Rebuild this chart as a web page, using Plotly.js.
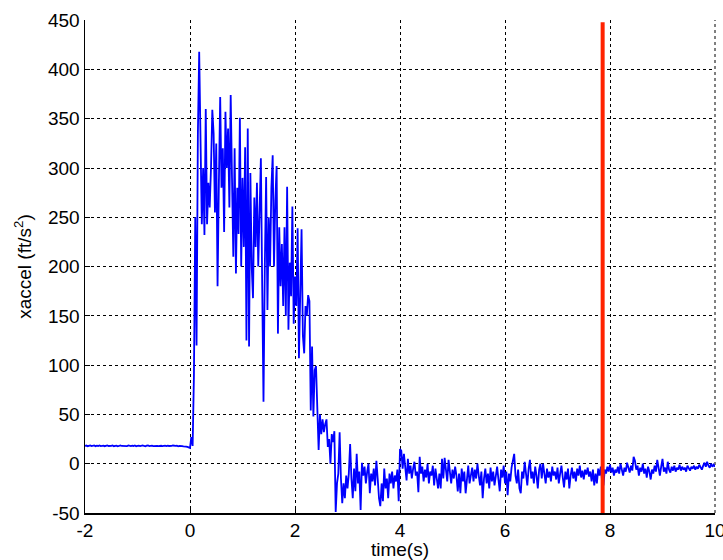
<!DOCTYPE html>
<html>
<head>
<meta charset="utf-8">
<script src="https://cdn.plot.ly/plotly-3.0.1.min.js"></script>
<style>
html,body{margin:0;padding:0;background:#fff;overflow:hidden;}
#chart{width:723px;height:560px;}
</style>
</head>
<body>
<div id="chart"></div>
<script>
// time axis: samples start at T0 and are spaced DT seconds apart
const T0 = -2;
const DT = 0.025;

// xaccel samples (ft/s^2), one row = 0.5 s
const xaccel = [
  // -2.0 .. -0.025
  18,18.4,17.8,18.2,18.6,17.9,18.1,18.5,17.7,18.3,18,18.6,17.9,18.2,18.4,17.8,18.1,18.5,18,17.9,
  18.2,18.6,17.8,18.1,18.4,17.7,18.3,18.5,18,17.9,18.4,18.1,17.8,18.6,18.2,17.9,18.3,18,18.5,17.8,
  18.1,18.4,17.9,18.2,18.6,18,17.7,18.3,18.5,17.9,18.2,18.4,17.8,18,18.6,18.1,17.9,18.3,18.2,17.8,
  18.1,18.3,17.9,18.4,18,17.8,18.2,18.5,17.9,18.1,18.3,17.7,18,18.2,17.9,17.6,17.8,17.4,17,16.5,
  // 0.0 .. 
  16,27,18,90,250,120,335,418,300,243,300,232,360,243,285,260,300,359,335,255,
  325,180,285,372,280,320,235,357,300,340,260,374,290,210,320,193,280,233,351,200,
  290,220,321,125,340,119,295,200,168,270,220,285,200,260,310,180,63,200,291,156,
  250,200,280,313,200,267,302,132,240,180,223,160,240,150,281,136,204,170,261,142,
  190,160,239,107,160,238,130,112,160,150,171,165,54,119,48,95,99,51,14,50,
  30,45,32,40,45,17,25,0,30,22,33,-49,-20,-10,32,-15,-40,-20,-35,-12,
  -25,-10,20,-15,-35,-5,-28,10,-20,-8,-47,1,-12,-3,-20,-8,0,-30,-10,-18,
  -5,-22,3,-15,-35,-43,-20,-38,-5,-25,-15,-35,-10,-20,-8,-25,-12,-18,-6,-38,
  15,13,-5,10,-8,-17,5,-10,-2,-15,-5,2,-12,-8,-29,7,-10,-3,-18,-6,
  -14,0,-20,-8,-12,-2,-22,-5,-15,-25,-10,-25,5,-15,6,-8,-18,4,-12,-20,
  -6,-15,-3,-12,-28,-10,-30,-5,-18,-8,-30,-12,-2,-20,-10,-4,-18,-6,-15,0,
  -12,-22,-8,-35,-15,-5,-20,-10,-25,-4,-18,-8,-22,-12,-3,-16,-28,-6,-14,-2,
  -20,-8,-32,-10,-18,-4,5,10,-12,-20,-6,-25,-30,-8,-15,2,-10,-22,-5,4,
  -15,-8,-20,-3,-12,-25,-6,0,-15,0,-10,-20,-5,-14,-8,-18,-3,-12,-8,-16,
  -4,-20,-10,-2,-14,-24,-8,-16,-5,-25,-12,-4,-15,-8,-18,-5,-12,-2,-14,-7,
  -16,-6,-11,-4,-13,-8,-18,-6,-22,-10,-20,-5,-12,-3,-18,-22,-6,-10,-3,-8,
  -1,-9,-4,-12,-6,-9,-3,-10,0,-6,-12,-4,-8,1,-5,-9,-2,-7,7,3,
  -6,-2,-12,-4,-8,0,-10,-5,-14,-3,-8,-16,-6,-10,-2,-8,4,-6,-12,-3,
  5,-8,-4,-10,2,-6,-9,-3,-7,-2,-8,-4,-6,-1,-7,-3,-6,-4,-8,-2,
  -5,-7,-3,-5,-2,-6,-3,-5,-1,-4,-6,-2,1,-3,2,-2,-4,0,-3,-1,
  -3
];

// red marker line
const markerTime = [7.86, 7.86];
const markerY = [-50, 448];

const xTicks = [-2, 0, 2, 4, 6, 8, 10];
const yTicks = [-50, 0, 50, 100, 150, 200, 250, 300, 350, 400, 450];

const FONT = "'Liberation Sans', Arial, Helvetica, sans-serif";
const FS = 19;

const traces = [
  {
    type: 'scatter', mode: 'lines',
    y: xaccel, x0: T0, dx: DT,
    line: {color: '#0000ff', width: 1.8},
    hoverinfo: 'skip'
  },
  {
    type: 'scatter', mode: 'lines',
    x: markerTime, y: markerY,
    line: {color: '#ff2200', width: 4},
    hoverinfo: 'skip'
  }
];

const axisCommon = {
  showgrid: true, gridcolor: '#000000', griddash: 'dot', gridwidth: 1,
  zeroline: false,
  showline: true, linecolor: '#000000', linewidth: 1.5, mirror: false,
  ticks: 'inside', ticklen: 5, tickcolor: '#000000', tickwidth: 1,
  ticklabeloverflow: 'allow',
  tickfont: {family: FONT, size: FS, color: '#000000'}
};

const layout = {
  width: 723, height: 560,
  margin: {l: 85, r: 8, t: 20, b: 47},
  paper_bgcolor: '#ffffff', plot_bgcolor: '#ffffff',
  showlegend: false,
  font: {family: FONT, color: '#000000'},
  xaxis: Object.assign({}, axisCommon, {
    range: [-2, 10], tickvals: xTicks, ticktext: xTicks.map(String),
    title: {text: 'time(s)', font: {family: FONT, size: FS, color: '#000'}, standoff: 5}
  }),
  yaxis: Object.assign({}, axisCommon, {
    range: [-50, 450.2], tickvals: yTicks, ticktext: yTicks.map(String),
    title: {text: 'xaccel (ft/s<sup>2</sup>)', font: {family: FONT, size: FS, color: '#000'}, standoff: 11}
  }),
  // dotted right border of the plot box (grid line at the last x tick)
  shapes: [{
    type: 'line', xref: 'paper', yref: 'paper', x0: 1, x1: 1, y0: 0, y1: 1,
    line: {color: '#000000', width: 1, dash: 'dot'}, layer: 'below'
  }]
};

Plotly.newPlot('chart', traces, layout, {displayModeBar: false, staticPlot: true});
</script>
</body>
</html>
